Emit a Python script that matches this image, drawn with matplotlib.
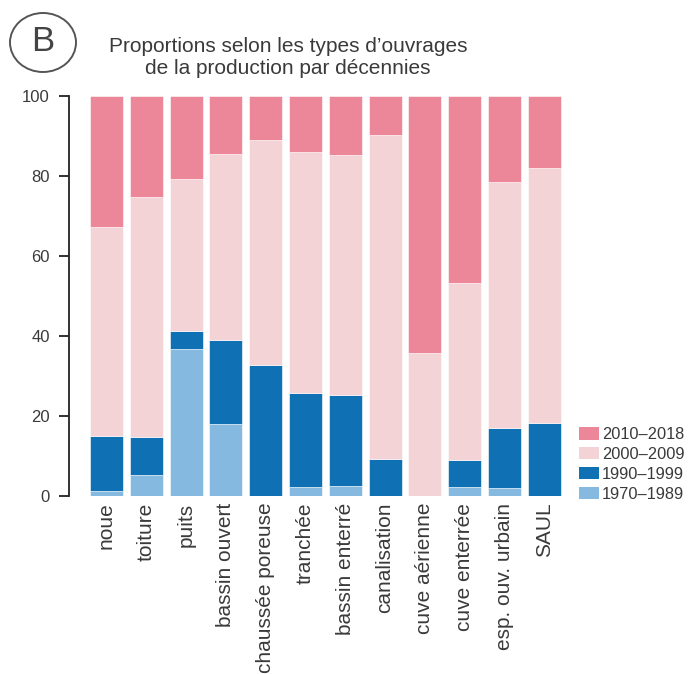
import matplotlib
matplotlib.use("Agg")
import matplotlib.pyplot as plt
from matplotlib.patches import Ellipse, Patch
import numpy as np

plt.rcParams['font.family'] = ['Liberation Sans', 'DejaVu Sans']

categories = ["noue", "toiture", "puits", "bassin ouvert", "chaussée poreuse",
              "tranchée", "bassin enterré", "canalisation", "cuve aérienne",
              "cuve enterrée", "esp. ouv. urbain", "SAUL"]
s1970_1989 = [1.2, 5.2, 36.8, 18.0, 0.0, 2.3, 2.5, 0.0, 0.0, 2.2, 2.0, 0.0]
s1990_1999 = [13.7, 9.5, 4.4, 20.9, 32.8, 23.3, 22.6, 9.1, 0.0, 6.7, 14.9, 18.1]
s2000_2009 = [52.3, 60.1, 38.1, 46.5, 56.2, 60.4, 60.15, 81.0, 35.75, 44.4, 61.6, 63.8]
s2010_2018 = [32.8, 25.2, 20.7, 14.6, 11.0, 14.0, 14.75, 9.9, 64.25, 46.7, 21.5, 18.1]
series_labels = ["1970–1989", "1990–1999", "2000–2009", "2010–2018"]
yticks = [0, 20, 40, 60, 80, 100]

colors = ["#86B9DF", "#0F71B3", "#F3D3D6", "#EB8799"]
txt = "#3a3a3a"

W, H = 688, 674
fig = plt.figure(figsize=(W / 100, H / 100), dpi=100)

# axes placement in pixels
left_px, right_px = 69, 565
bottom_px, top_px = 495.7, 95.7
ax = fig.add_axes([left_px / W, (H - bottom_px) / H,
                   (right_px - left_px) / W, (bottom_px - top_px) / H])

x = np.arange(len(categories))
series = [s1970_1989, s1990_1999, s2000_2009, s2010_2018]
bottom = np.zeros(len(categories))
handles = []
for vals, col, lab in zip(series, colors, series_labels):
    v = np.array(vals)
    ax.bar(x, v, bottom=bottom, width=0.83, color=col, edgecolor="white",
           linewidth=0.4, label=lab)
    bottom += v
    handles.append(Patch(facecolor=col, edgecolor="none", label=lab))

pitch = 39.8
c0 = 106.5
ax.set_xlim((left_px - c0) / pitch, (right_px - c0) / pitch)
ax.set_ylim(0, 100)

for s in ["top", "right", "bottom"]:
    ax.spines[s].set_visible(False)
ax.spines["left"].set_linewidth(1.3)
ax.spines["left"].set_color("#222222")
ax.spines["left"].set_bounds(0, 100)

ax.set_yticks(yticks)
ax.set_yticklabels([str(t) for t in yticks])
ax.tick_params(axis="y", direction="out", length=7.2, width=1.3, color="#222222",
               labelsize=12, labelcolor=txt, pad=6.5)
ax.set_xticks(x)
ax.set_xticklabels(categories, rotation=90, ha="center", va="top")
ax.tick_params(axis="x", length=0, labelsize=15, labelcolor=txt, pad=5)

# legend
leg = fig.legend(handles=handles[::-1], loc="upper left",
                 bbox_to_anchor=(579 / W, (H - 427) / H),
                 frameon=False, fontsize=11.8, handlelength=1.2, handleheight=0.8,
                 handletextpad=0.2, labelspacing=0.3, borderpad=0, borderaxespad=0)
for t in leg.get_texts():
    t.set_color(txt)

# title
fig.text(288 / W, 1 - 57.5 / H, "Proportions selon les types d’ouvrages\nde la production par décennies",
         ha="center", va="center", fontsize=15, color=txt, linespacing=1.25)

# circled B
ell = Ellipse((43 / W, 1 - 42.5 / H), 66 / W, 59 / H, transform=fig.transFigure,
              fill=False, edgecolor="#555555", linewidth=1.4)
fig.add_artist(ell)
fig.text(43 / W, 1 - 41.5 / H, "B", ha="center", va="center", fontsize=25,
         color="#444444")

fig.savefig("out.png", dpi=100)
